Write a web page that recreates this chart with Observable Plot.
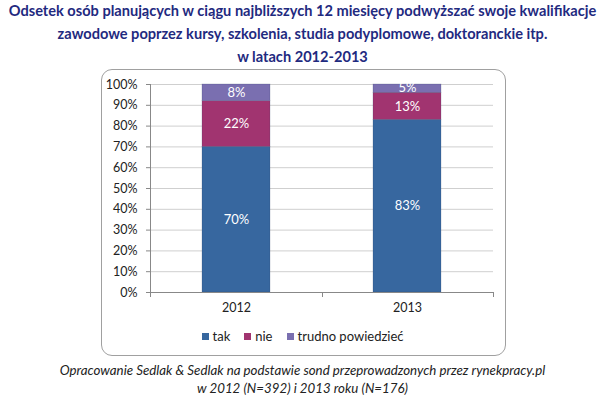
<!DOCTYPE html>
<html><head><meta charset="utf-8">
<script src="https://cdn.jsdelivr.net/npm/d3@7"></script>
<script src="https://cdn.jsdelivr.net/npm/@observablehq/plot@0.6"></script>
<style>
body{margin:0;background:#fff;font-family:Lato,"DejaVu Sans",sans-serif;}
#wrap{position:relative;width:605px;height:396px;overflow:hidden;}
#title{position:absolute;left:0;top:-1px;width:605px;text-align:center;color:#1f2a80;font-weight:bold;font-size:14.6px;line-height:23px;white-space:nowrap;}
#frame{position:absolute;left:101px;top:69px;width:405px;height:287px;border:1.3px solid #a0a0a0;border-radius:11px;box-sizing:border-box;}
#chart{position:absolute;left:0;top:69px;}
#legend{position:absolute;left:0;top:328px;width:605px;text-align:center;font-size:13px;color:#222;}
#legend span.it{margin:0 7px;}
#legend i{display:inline-block;width:7px;height:7px;margin-right:4px;vertical-align:1px;}
#caption{position:absolute;left:0;top:361px;width:605px;text-align:center;font-style:italic;font-size:13.3px;line-height:18px;color:#222;}
</style></head>
<body><div id="wrap">
<div id="title">Odsetek osób planujących w ciągu najbliższych 12 miesięcy podwyższać swoje kwalifikacje<br>zawodowe poprzez kursy, szkolenia, studia podyplomowe, doktoranckie itp.<br>w latach 2012-2013</div>
<div id="frame"></div>
<div id="chart"></div>
<div id="legend"></div>
<div id="caption">Opracowanie Sedlak &amp; Sedlak na podstawie sond przeprowadzonych przez rynekpracy.pl<br>w 2012 (N=392) i 2013 roku (N=176)</div>
</div>
<script>
const years = ["2012", "2013"];
const series = ["tak", "nie", "trudno powiedzieć"];
const tak = [70, 83];
const nie = [22, 13];
const trudno = [8, 5];
const colors = ["#37679f", "#a13470", "#7a6fb0"];
const yTicks = [0, 10, 20, 30, 40, 50, 60, 70, 80, 90, 100];

const values = [tak, nie, trudno];
const data = [];
series.forEach((s, i) => years.forEach((y, j) => data.push({year: y, series: s, value: values[i][j]})));

function axisLines(index, scales, vals, dims) {
  const g = d3.create("svg:g").attr("stroke", "#888").attr("fill", "none").attr("stroke-width", 1);
  const x0 = dims.marginLeft, x1 = dims.width - dims.marginRight;
  const yb = scales.y(0), yt = scales.y(100);
  g.append("line").attr("x1", x0 + 0.5).attr("x2", x0 + 0.5).attr("y1", yt).attr("y2", yb);
  g.append("line").attr("x1", x0).attr("x2", x1).attr("y1", yb + 0.5).attr("y2", yb + 0.5);
  const step = scales.x.step ? scales.x.step() : (scales.x.bandwidth() / 0.4);
  const bounds = [x0, ...years.slice(1).map(y => scales.x(y) - step * 0.3), x1];
  bounds.forEach(b => g.append("line").attr("x1", Math.round(b) + 0.5).attr("x2", Math.round(b) + 0.5).attr("y1", yb).attr("y2", yb + 5));
  return g.node();
}

const chart = Plot.plot({
  width: 605,
  height: 262,
  marginLeft: 150,
  marginRight: 112,
  marginTop: 15,
  marginBottom: 39,
  style: {fontFamily: "Lato, sans-serif", fontSize: "12.5px", color: "#222", background: "transparent"},
  x: {domain: years, paddingInner: 0.6, paddingOuter: 0.3, label: null},
  y: {domain: [0, 100], clamp: true, label: null},
  color: {domain: series, range: colors},
  marks: [
    Plot.gridY(yTicks, {stroke: "#cfcfcf", strokeOpacity: 1}),
    Plot.barY(data, {x: "year", y: "value", fill: "series", order: series, stroke: "#2d3d60", strokeOpacity: 0.35, strokeWidth: 0.6}),
    Plot.text(data, Plot.stackY({x: "year", y: "value", z: "series", order: series, text: d => d.value + "%", fill: "white", fontSize: 13})),
    axisLines,
    Plot.axisY(yTicks, {tickSize: 4, tickPadding: 9, tickFormat: d => d + "%", stroke: "#888", fontSize: 12.5}),
    Plot.axisX({tickSize: 0, tickPadding: 11, fontSize: 12.5})
  ]
});
document.getElementById("chart").appendChild(chart);

const leg = document.getElementById("legend");
series.forEach((s, i) => {
  const sp = document.createElement("span");
  sp.className = "it";
  sp.innerHTML = `<i style="background:${colors[i]}"></i>${s}`;
  leg.appendChild(sp);
});
</script>
</body></html>
